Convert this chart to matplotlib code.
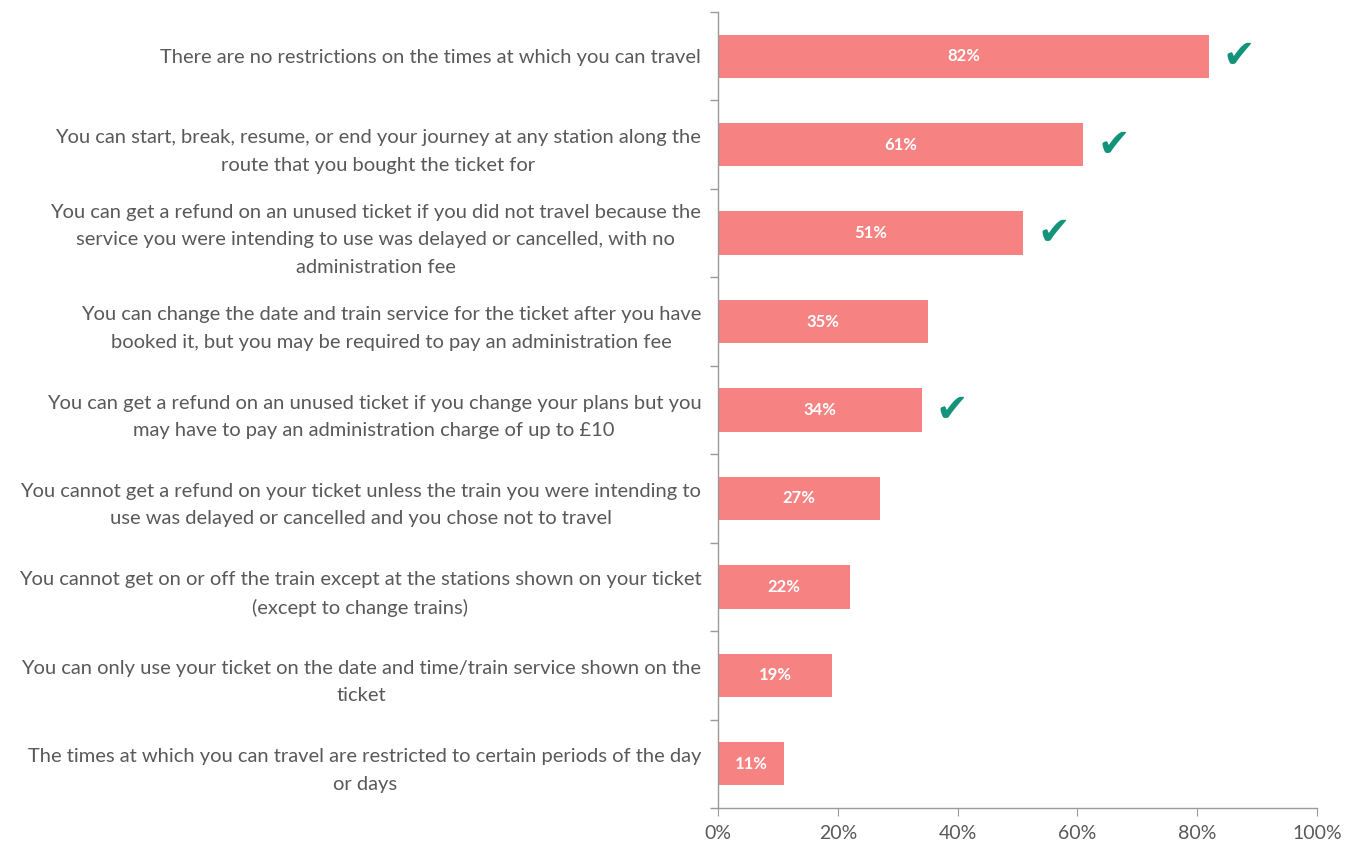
import matplotlib
matplotlib.use("Agg")
import matplotlib.pyplot as plt
from matplotlib.ticker import FixedLocator, PercentFormatter

categories = [
    "There are no restrictions on the times at which you can travel",
    "You can start, break, resume, or end your journey at any station along the\nroute that you bought the ticket for",
    "You can get a refund on an unused ticket if you did not travel because the\nservice you were intending to use was delayed or cancelled, with no\nadministration fee",
    "You can change the date and train service for the ticket after you have\nbooked it, but you may be required to pay an administration fee",
    "You can get a refund on an unused ticket if you change your plans but you\nmay have to pay an administration charge of up to \u00a310",
    "You cannot get a refund on your ticket unless the train you were intending to\nuse was delayed or cancelled and you chose not to travel",
    "You cannot get on or off the train except at the stations shown on your ticket\n(except to change trains)",
    "You can only use your ticket on the date and time/train service shown on the\nticket",
    "The times at which you can travel are restricted to certain periods of the day\nor days",
]
values = [82, 61, 51, 35, 34, 27, 22, 19, 11]
checked = [True, True, True, False, True, False, False, False, False]
xticks = [0, 20, 40, 60, 80, 100]

plt.rcParams['font.family'] = ['Lato', 'DejaVu Sans']
text_col = "#595959"
bar_col = "#F78282"
check_col = "#14937B"

fig = plt.figure(figsize=(13.57, 8.47), dpi=100)
ax = fig.add_axes([718/1357, 1 - 808/847, (1317-718)/1357, (808-12)/847])

n = len(categories)
ypos = list(range(n))
ax.barh(ypos, values, height=0.49, color=bar_col, zorder=2)
ax.set_ylim(n - 0.5, -0.5)
ax.set_xlim(0, 100)

for y, v, c in zip(ypos, values, checked):
    ax.text(v / 2, y, f"{v}%", ha="center", va="center", color="white",
            fontsize=12, fontweight="bold")
    if c:
        ax.text(v + 5, y + 0.0, "\u2714", ha="center", va="center", color=check_col,
                fontsize=28, family=["DejaVu Sans"])

ax.set_xticks(xticks)
ax.xaxis.set_major_formatter(PercentFormatter(decimals=0))
ax.set_yticks(ypos)
ax.set_yticklabels(categories, multialignment="center", linespacing=1.75)
ax.yaxis.set_minor_locator(FixedLocator([i - 0.5 for i in range(n + 1)]))
ax.tick_params(axis="y", which="major", length=0, pad=12, labelsize=14.5, labelcolor=text_col)
ax.tick_params(axis="y", which="minor", length=6, color="#999999", width=1)
ax.tick_params(axis="x", length=6, color="#999999", labelsize=14, labelcolor=text_col, pad=6)

for s in ["top", "right"]:
    ax.spines[s].set_visible(False)
for s in ["left", "bottom"]:
    ax.spines[s].set_color("#999999")
    ax.spines[s].set_linewidth(1)

fig.savefig("out.png", dpi=100)
